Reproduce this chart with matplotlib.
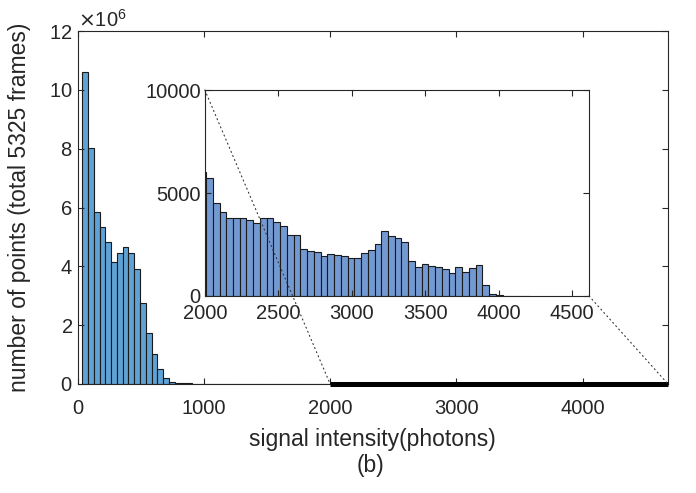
import numpy as np
import matplotlib
matplotlib.use('Agg')
import matplotlib.pyplot as plt
from matplotlib.patches import ConnectionPatch
from matplotlib.ticker import ScalarFormatter

plt.rcParams['font.family'] = ['Liberation Sans', 'DejaVu Sans']

# histogram bins (photons)
bin_start = 36.6
bin_width = 45.85

# low-intensity bins, counts in millions
main_counts = [10.62, 8.01, 5.86, 5.35, 4.84, 4.16, 4.46, 4.67, 4.46, 3.90,
               2.74, 1.74, 1.02, 0.50, 0.19, 0.06]
# tail between ~800 and 2000 photons (counts)
tail_counts = [30000, 22000, 18000, 15000, 13500, 12500, 12000, 11500, 11000,
               10500, 10000, 9800, 9500, 9200, 9000, 8700, 8400, 8100, 7800,
               7500, 7300, 7100, 6900, 6700, 6500, 6300]
# bins shown in the inset, from ~1960 photons upward (counts)
inset_counts = [6034, 5744, 4531, 4094, 3770, 3770, 3803, 3689, 3527, 3770,
                3803, 3608, 3414, 2961, 2961, 2265, 2200, 2152, 1958, 2023,
                1990, 1942, 1861, 1861, 2104, 2233, 2508, 3155, 2929, 2832,
                2605, 1715, 1424, 1553, 1456, 1392, 1311, 1133, 1392, 1149,
                1343, 1505, 534, 81, 50, 20, 12, 8, 5]

counts = np.concatenate([np.array(main_counts) * 1e6, tail_counts, inset_counts])
edges = bin_start + bin_width * np.arange(len(counts) + 1)

main_color = '#5fa3d6'
inset_color = '#7399d3'
ax_color = '#262626'

fig = plt.figure(figsize=(6.96, 4.93), dpi=100)
ax = fig.add_axes([0.1114, 0.2211, 0.8484, 0.7160])
ax.bar(edges[:-1], counts, width=bin_width, align='edge', color=main_color,
       edgecolor='#1a1a1a', linewidth=0.8)
ax.set_xlim(0, 4675)
ax.set_ylim(0, 12e6)
ax.set_xticks([0, 1000, 2000, 3000, 4000])
ax.set_yticks(np.arange(0, 12.1e6, 2e6))
fmt = ScalarFormatter(useMathText=True)
fmt.set_powerlimits((6, 6))
ax.yaxis.set_major_formatter(fmt)
ax.yaxis.get_offset_text().set_fontsize(14.5)
ax.yaxis.get_offset_text().set_color(ax_color)
ax.tick_params(direction='in', top=True, right=True, length=4, width=0.8,
               labelsize=14.5, colors=ax_color)
ax.tick_params(axis='x', pad=11)
for s in ax.spines.values():
    s.set_color(ax_color)
    s.set_linewidth(0.8)
ax.set_xlabel('signal intensity(photons)', fontsize=16.5, color=ax_color, labelpad=7)
ax.set_ylabel('number of points (total 5325 frames)', fontsize=16.5, color=ax_color,
              labelpad=13)

# thick marker of the zoomed range
ax.plot([2000, 4675], [0, 0], color='black', linewidth=3.6, clip_on=False,
        solid_capstyle='butt', zorder=5)

# inset
axin = fig.add_axes([0.2943, 0.3996, 0.5520, 0.4178])
axin.bar(edges[:-1], counts, width=bin_width, align='edge', color=inset_color,
         edgecolor='#1a1a1a', linewidth=0.8)
axin.set_xlim(2000, 4614)
axin.set_ylim(0, 10000)
axin.set_xticks(np.arange(2000, 4501, 500))
axin.set_yticks([0, 5000, 10000])
axin.tick_params(direction='in', top=True, right=True, length=4, width=0.8,
                 labelsize=14.5, colors=ax_color, pad=3)
axin.tick_params(axis='x', pad=6)
for s in axin.spines.values():
    s.set_color(ax_color)
    s.set_linewidth(0.8)

# dotted connector lines
for xy_in, xy_main in [((0, 1), (2000, 0)), ((1, 0), (4675, 0))]:
    con = ConnectionPatch(xyA=xy_in, coordsA=axin.transAxes,
                          xyB=xy_main, coordsB=ax.transData,
                          linestyle=(0, (1, 3)), color='#333333', linewidth=0.8,
                          zorder=10)
    fig.add_artist(con)

fig.text(0.533, 0.055, '(b)', fontsize=16.5, color=ax_color, ha='center', va='center')

fig.savefig('out.png', dpi=100)
